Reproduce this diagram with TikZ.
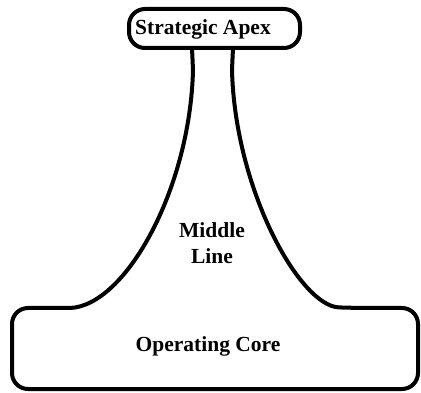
\documentclass[tikz,border=0pt]{standalone}
\usepackage{fontspec}
\setmainfont{Liberation Serif}

\begin{document}
\begin{tikzpicture}[
    x=1pt, y=-1pt,
    every node/.style={font=\fontsize{21.5}{26}\selectfont\bfseries, inner sep=0pt},
    outline/.style={draw, line width=4pt, line join=round},
    part/.style={align=center}
]
    \useasboundingbox (0,0) rectangle (421,393);

% -------------------------
% Strategic apex (top box)
% -------------------------
    \draw[outline, rounded corners=16pt] (129,9) rectangle (300,48);
    \node[part, anchor=base] (apex) at (203,35) {Strategic Apex};

% -------------------------
% Middle line and operating core
% -------------------------
    \draw[outline] (192,48) -- (193,70)
        .. controls (190,190) and (125,306) .. (70,308)
        [rounded corners=16pt] -- (12,308) -- (12,389) -- (418,389) -- (418,308) -- (355,308)
        [sharp corners] .. controls (300,306) and (235,190) .. (232,70) -- (233,48);

    \node[part] (middle) at (212,243) {Middle\\Line};
    \node[part, anchor=base] (core) at (208,352) {Operating Core};
\end{tikzpicture}
\end{document}
